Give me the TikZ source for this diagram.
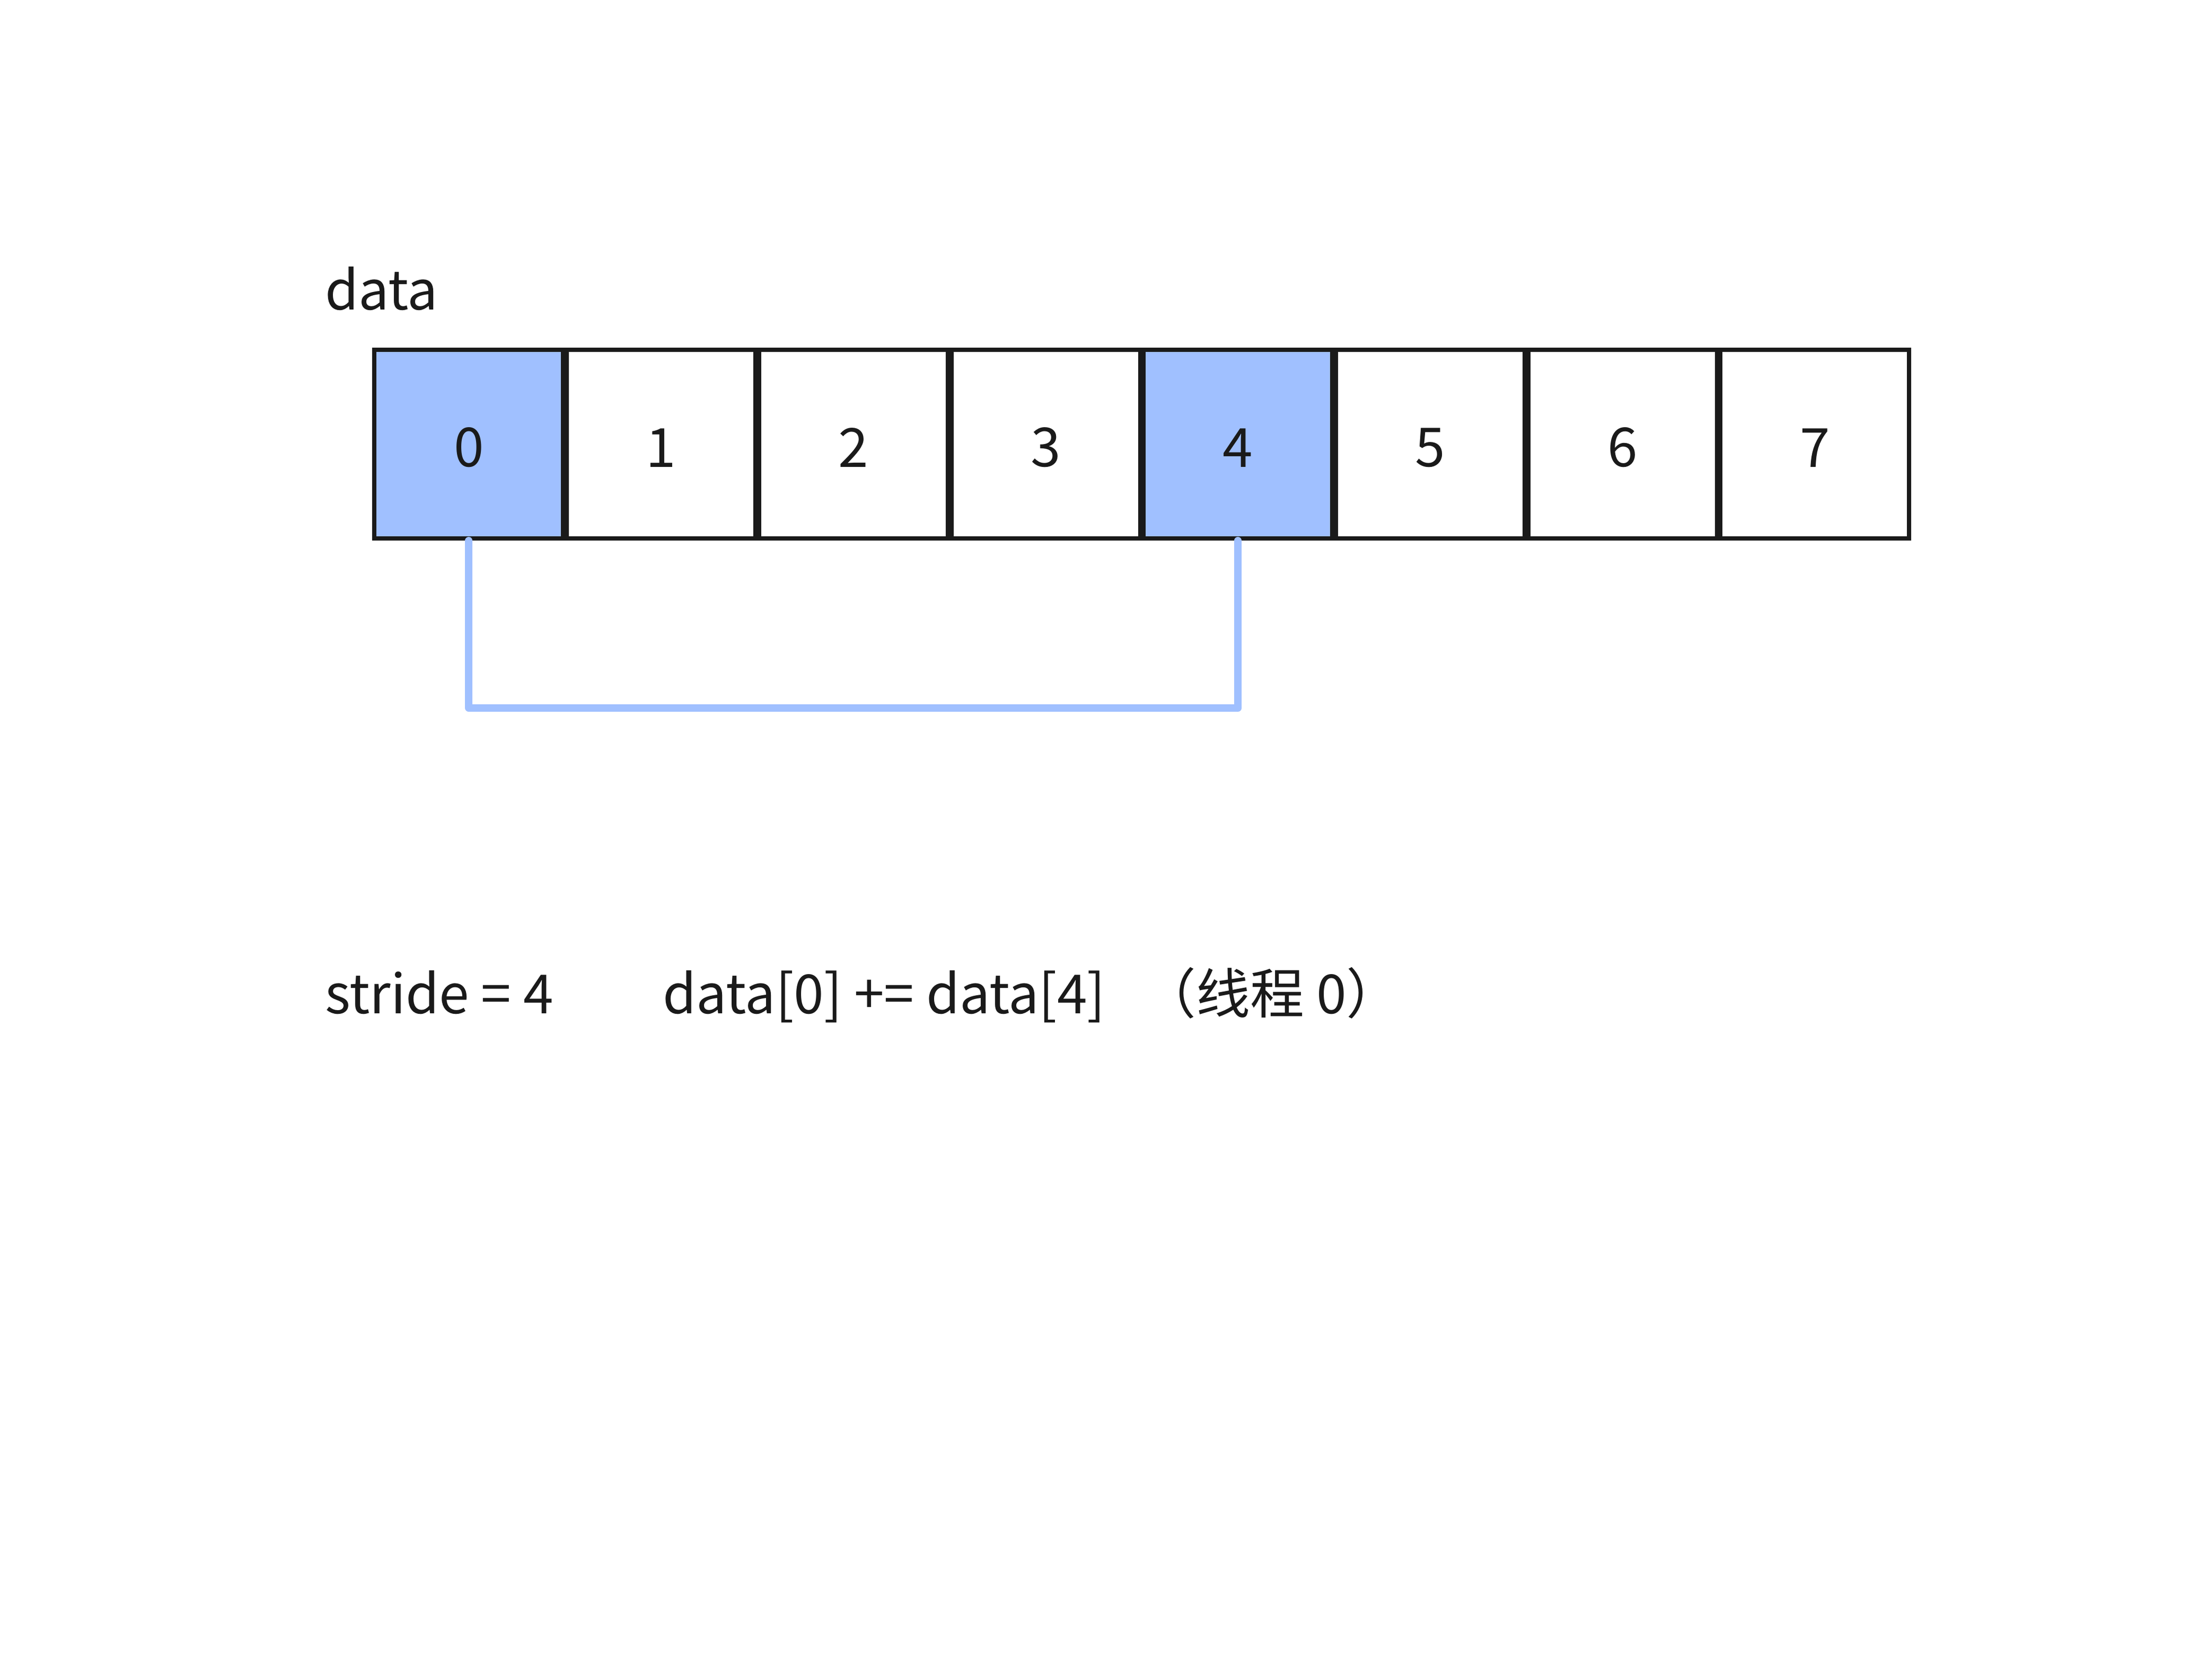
\documentclass[tikz,border=0pt]{standalone}
\usepackage{fontspec}
\setmainfont{Noto Sans CJK SC}
\definecolor{hlblue}{HTML}{A0C0FF}
\definecolor{inkgray}{HTML}{1A1A1A}

\begin{document}
\begin{tikzpicture}[x=1cm,y=1cm,
    txt/.style={anchor=base west, inner sep=0pt, text=inkgray, font=\fontsize{29}{35}\selectfont},
    cell/.style={draw=inkgray, line width=0.08cm, minimum size=3.56cm, inner sep=0pt,
                 text height=0.86cm, text=inkgray, font=\fontsize{29}{35}\selectfont},
    link/.style={draw=hlblue, line width=0.14cm, line join=round, line cap=round}]
      \useasboundingbox (0,0) rectangle (41.48,-31.69);

      % 数组 data
      \node[txt] (title) at (6.13,-5.84) {data};
      \foreach \i/\fc in {0/hlblue,1/white,2/white,3/white,4/hlblue,5/white,6/white,7/white}
        \node[cell, fill=\fc] (cell\i) at (8.844+3.627*\i,-8.38) {\i};

      % 配对连线 0 -- 4
      \draw[link] (cell0.south) -- ++(0,-3.16) -| (cell4.south);

      % 说明文字
      \node[txt] (stride) at (6.13,-19.12) {stride = 4};
      \node[txt] (op) at (12.50,-19.12) {data[0] += data[4]};
      \node[txt] (thread) at (21.54,-19.12) {（线程 0）};
    \end{tikzpicture}
\end{document}
